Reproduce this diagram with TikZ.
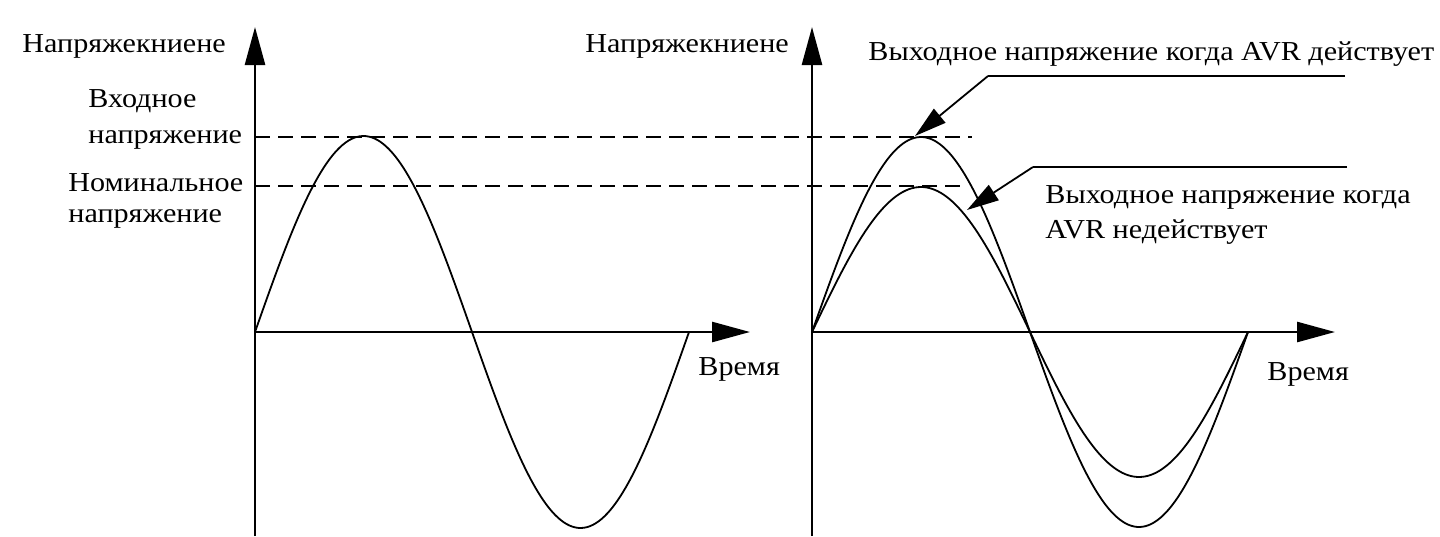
\documentclass[tikz,border=0pt]{standalone}
\usepackage{fontspec}
\setmainfont{Liberation Serif}[FakeStretch=1.1]
\usetikzlibrary{arrows.meta}
\begin{document}
\begin{tikzpicture}[x=0.5pt,y=-0.5pt,
  axis/.style={line width=1.3pt,-{Triangle[length=19pt,width=10pt]}},
  wave/.style={line width=0.9pt},
  guide/.style={line width=1pt,dash pattern=on 7.5pt off 4pt},
  leader/.style={line width=0.9pt},
  pointer/.style={line width=0.9pt,-{Triangle[length=16pt,width=9pt]}},
  lbl/.style={font=\fontsize{13.7pt}{16pt}\selectfont,inner sep=0pt,anchor=base west}]
\useasboundingbox (0,0) rectangle (1440,536);
% ---------- left panel ----------
\coordinate (L0) at (255,332);
\coordinate (Lbot) at (255,536);
\coordinate (Ltop) at (255,27);
\coordinate (Lend) at (750,332);
\draw[axis] (Lbot) -- (Ltop);
\draw[axis] (L0) -- (Lend);
\draw[wave] plot[domain=0:434,samples=150,smooth] ({255+\x},{332-196*sin(0.82949*\x)});
% ---------- right panel ----------
\coordinate (R0) at (812,332);
\coordinate (Rbot) at (812,536);
\coordinate (Rtop) at (812,27);
\coordinate (Rend) at (1335,332);
\draw[axis] (Rbot) -- (Rtop);
\draw[axis] (R0) -- (Rend);
\draw[wave] plot[domain=0:436,samples=150,smooth] ({812+\x},{332-195*sin(0.825688*\x)});
\draw[wave] plot[domain=0:436,samples=150,smooth] ({812+\x},{332-145*sin(0.825688*\x)});
% ---------- guide lines ----------
\coordinate (G1a) at (255,137);
\coordinate (G1b) at (972,137);
\coordinate (G2a) at (255,186);
\coordinate (G2b) at (967,186);
\draw[guide] (G1a) -- (G1b);
\draw[guide] (G2a) -- (G2b);
% ---------- leaders ----------
\coordinate (A1e) at (1345,76);
\coordinate (A1) at (988,76);
\coordinate (A1t) at (915,136);
\coordinate (A2e) at (1347,167);
\coordinate (A2) at (1033,167);
\coordinate (A2t) at (967,210);
\draw[leader] (A1e) -- (A1);
\draw[pointer] (A1) -- (A1t);
\draw[leader] (A2e) -- (A2);
\draw[pointer] (A2) -- (A2t);
% ---------- labels ----------
\node[lbl] (yl) at (22,52) {Напряжекниене};
\node[lbl] (yr) at (585,52) {Напряжекниене};
\node[lbl] (in1) at (88,107) {Входное};
\node[lbl] (in2) at (88,143) {напряжение};
\node[lbl] (nom1) at (68,191) {Номинальное};
\node[lbl] (nom2) at (68,222) {напряжение};
\node[lbl] (tl) at (698,375) {Время};
\node[lbl] (tr) at (1267,380) {Время};
\node[lbl] (on) at (868,60) {Выходное напряжение когда AVR действует};
\node[lbl] (off1) at (1045,203) {Выходное напряжение когда};
\node[lbl] (off2) at (1045,238) {AVR недействует};
\end{tikzpicture}
\end{document}
